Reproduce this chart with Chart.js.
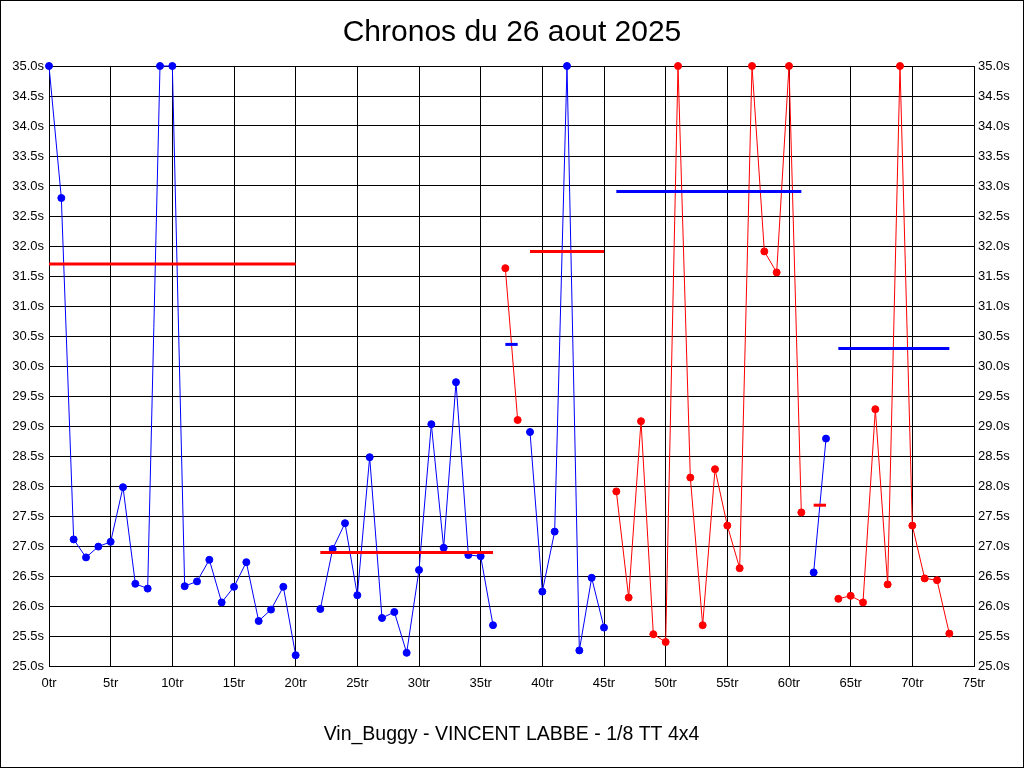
<!DOCTYPE html>
<html>
<head>
<meta charset="utf-8">
<title>Chronos du 26 aout 2025</title>
<script src="https://cdn.jsdelivr.net/npm/chart.js@4.4.1/dist/chart.umd.min.js"></script>
<style>
    html, body { margin: 0; padding: 0; background: #fff; }
    canvas { display: block; }
</style>
</head>
<body>
<canvas id="chrono-chart" width="1024" height="768"></canvas>
<script>
// Chronos par tour (s) - null = tour de l'autre serie
const blueTimes = [
    35.0, 32.8, 27.11, 26.81, 26.99, 27.07, 27.98, 26.37, 26.29, 35.0,
    35.0, 26.33, 26.41, 26.77, 26.06, 26.32, 26.73, 25.75, 25.94, 26.32,
    25.18, null, 25.95, 26.95, 27.38, 26.18, 28.48, 25.8, 25.9, 25.22,
    26.6, 29.03, 26.97, 29.73, 26.85, 26.83, 25.68, null, null, 28.9,
    26.24, 27.24, 35.0, 25.26, 26.47, 25.64, null, null, null, null,
    null, null, null, null, null, null, null, null, null, null,
    null, null, 26.56, 28.79
];
const redTimes = [
    null, null, null, null, null, null, null, null, null, null,
    null, null, null, null, null, null, null, null, null, null,
    null, null, null, null, null, null, null, null, null, null,
    null, null, null, null, null, null, null, 31.63, 29.1, null,
    null, null, null, null, null, null, 27.91, 26.14, 29.08, 25.53,
    25.4, 35.0, 28.14, 25.68, 28.28, 27.34, 26.63, 35.0, 31.91, 31.56,
    35.0, 27.56, null, null, 26.12, 26.17, 26.06, 29.28, 26.36, 35.0,
    27.34, 26.46, 26.43, 25.54
];

// Moyennes par relais
const avgFrom = [0, 22, 37, 39, 46, 62, 64];
const avgTo = [20, 36, 38, 45, 61, 63, 73];
const avgValue = [31.7, 26.89, 30.36, 31.91, 32.91, 27.68, 30.29];
const avgColor = ['red', 'red', 'blue', 'red', 'blue', 'red', 'blue'];

const BLUE = '#0000ff';
const RED = '#ff0000';
const FONT = 'Liberation Sans, Arial, sans-serif';

function toPoints(values) {
    return values.map((v, i) => ({ x: i, y: v }));
}

const datasets = [];

avgFrom.forEach((from, i) => {
    const col = avgColor[i] === 'red' ? RED : BLUE;
    datasets.push({
        data: [{ x: from, y: avgValue[i] }, { x: avgTo[i], y: avgValue[i] }],
        borderColor: col,
        borderWidth: 3,
        pointRadius: 0,
        order: 0
    });
});

[[blueTimes, BLUE], [redTimes, RED]].forEach(([values, col]) => {
    datasets.push({
        data: toPoints(values),
        borderColor: col,
        backgroundColor: col,
        borderWidth: 1,
        pointRadius: 3.5,
        pointBorderWidth: 1,
        pointBackgroundColor: col,
        pointBorderColor: col,
        spanGaps: false,
        clip: false,
        order: 1
    });
});

const frame = {
    id: 'frame',
    beforeDraw(chart) {
        const c = chart.ctx;
        c.save();
        c.fillStyle = '#fff';
        c.fillRect(0, 0, chart.width, chart.height);
        c.restore();
    },
    afterDraw(chart) {
        const c = chart.ctx;
        c.save();
        c.strokeStyle = '#000';
        c.lineWidth = 1;
        c.strokeRect(0.5, 0.5, chart.width - 1, chart.height - 1);
        c.restore();
    }
};

const yTicks = {
    min: 25,
    max: 35,
    ticks: {
        stepSize: 0.5,
        autoSkip: false,
        color: '#000',
        font: { family: FONT, size: 13 },
        callback: v => v.toFixed(1) + 's'
    },
    grid: { color: '#000', lineWidth: 1, drawTicks: false },
    border: { color: '#000' }
};

const ctx = document.getElementById('chrono-chart').getContext('2d');
new Chart(ctx, {
    type: 'line',
    data: { datasets },
    plugins: [frame],
    options: {
        responsive: false,
        animation: false,
        layout: { padding: 0 },
        plugins: {
            legend: { display: false },
            tooltip: { enabled: false },
            title: {
                display: true,
                text: 'Chronos du 26 aout 2025',
                color: '#000',
                font: { family: FONT, size: 30, weight: 'normal' },
                padding: { top: 15, bottom: 15 }
            }
        },
        scales: {
            x: {
                type: 'linear',
                min: 0,
                max: 75,
                ticks: {
                    stepSize: 5,
                    maxRotation: 0,
                    color: '#000',
                    padding: 10,
                    font: { family: FONT, size: 13 },
                    callback: v => v + 'tr'
                },
                grid: { color: '#000', lineWidth: 1, drawTicks: false },
                border: { color: '#000' },
                title: {
                    display: true,
                    text: 'Vin_Buggy - VINCENT LABBE - 1/8 TT 4x4',
                    color: '#000',
                    font: { family: FONT, size: 19.5 },
                    padding: { top: 0, bottom: 22 }
                },
                afterFit(s) { s.height = 102; }
            },
            y: Object.assign({}, yTicks, {
                position: 'left',
                ticks: Object.assign({}, yTicks.ticks, { padding: 5 }),
                afterFit(s) { s.width = 49; }
            }),
            y2: Object.assign({}, yTicks, {
                position: 'right',
                ticks: Object.assign({}, yTicks.ticks, { padding: 4 }),
                grid: { display: false, drawTicks: false },
                afterFit(s) { s.width = 50; }
            })
        }
    }
});
</script>
</body>
</html>
